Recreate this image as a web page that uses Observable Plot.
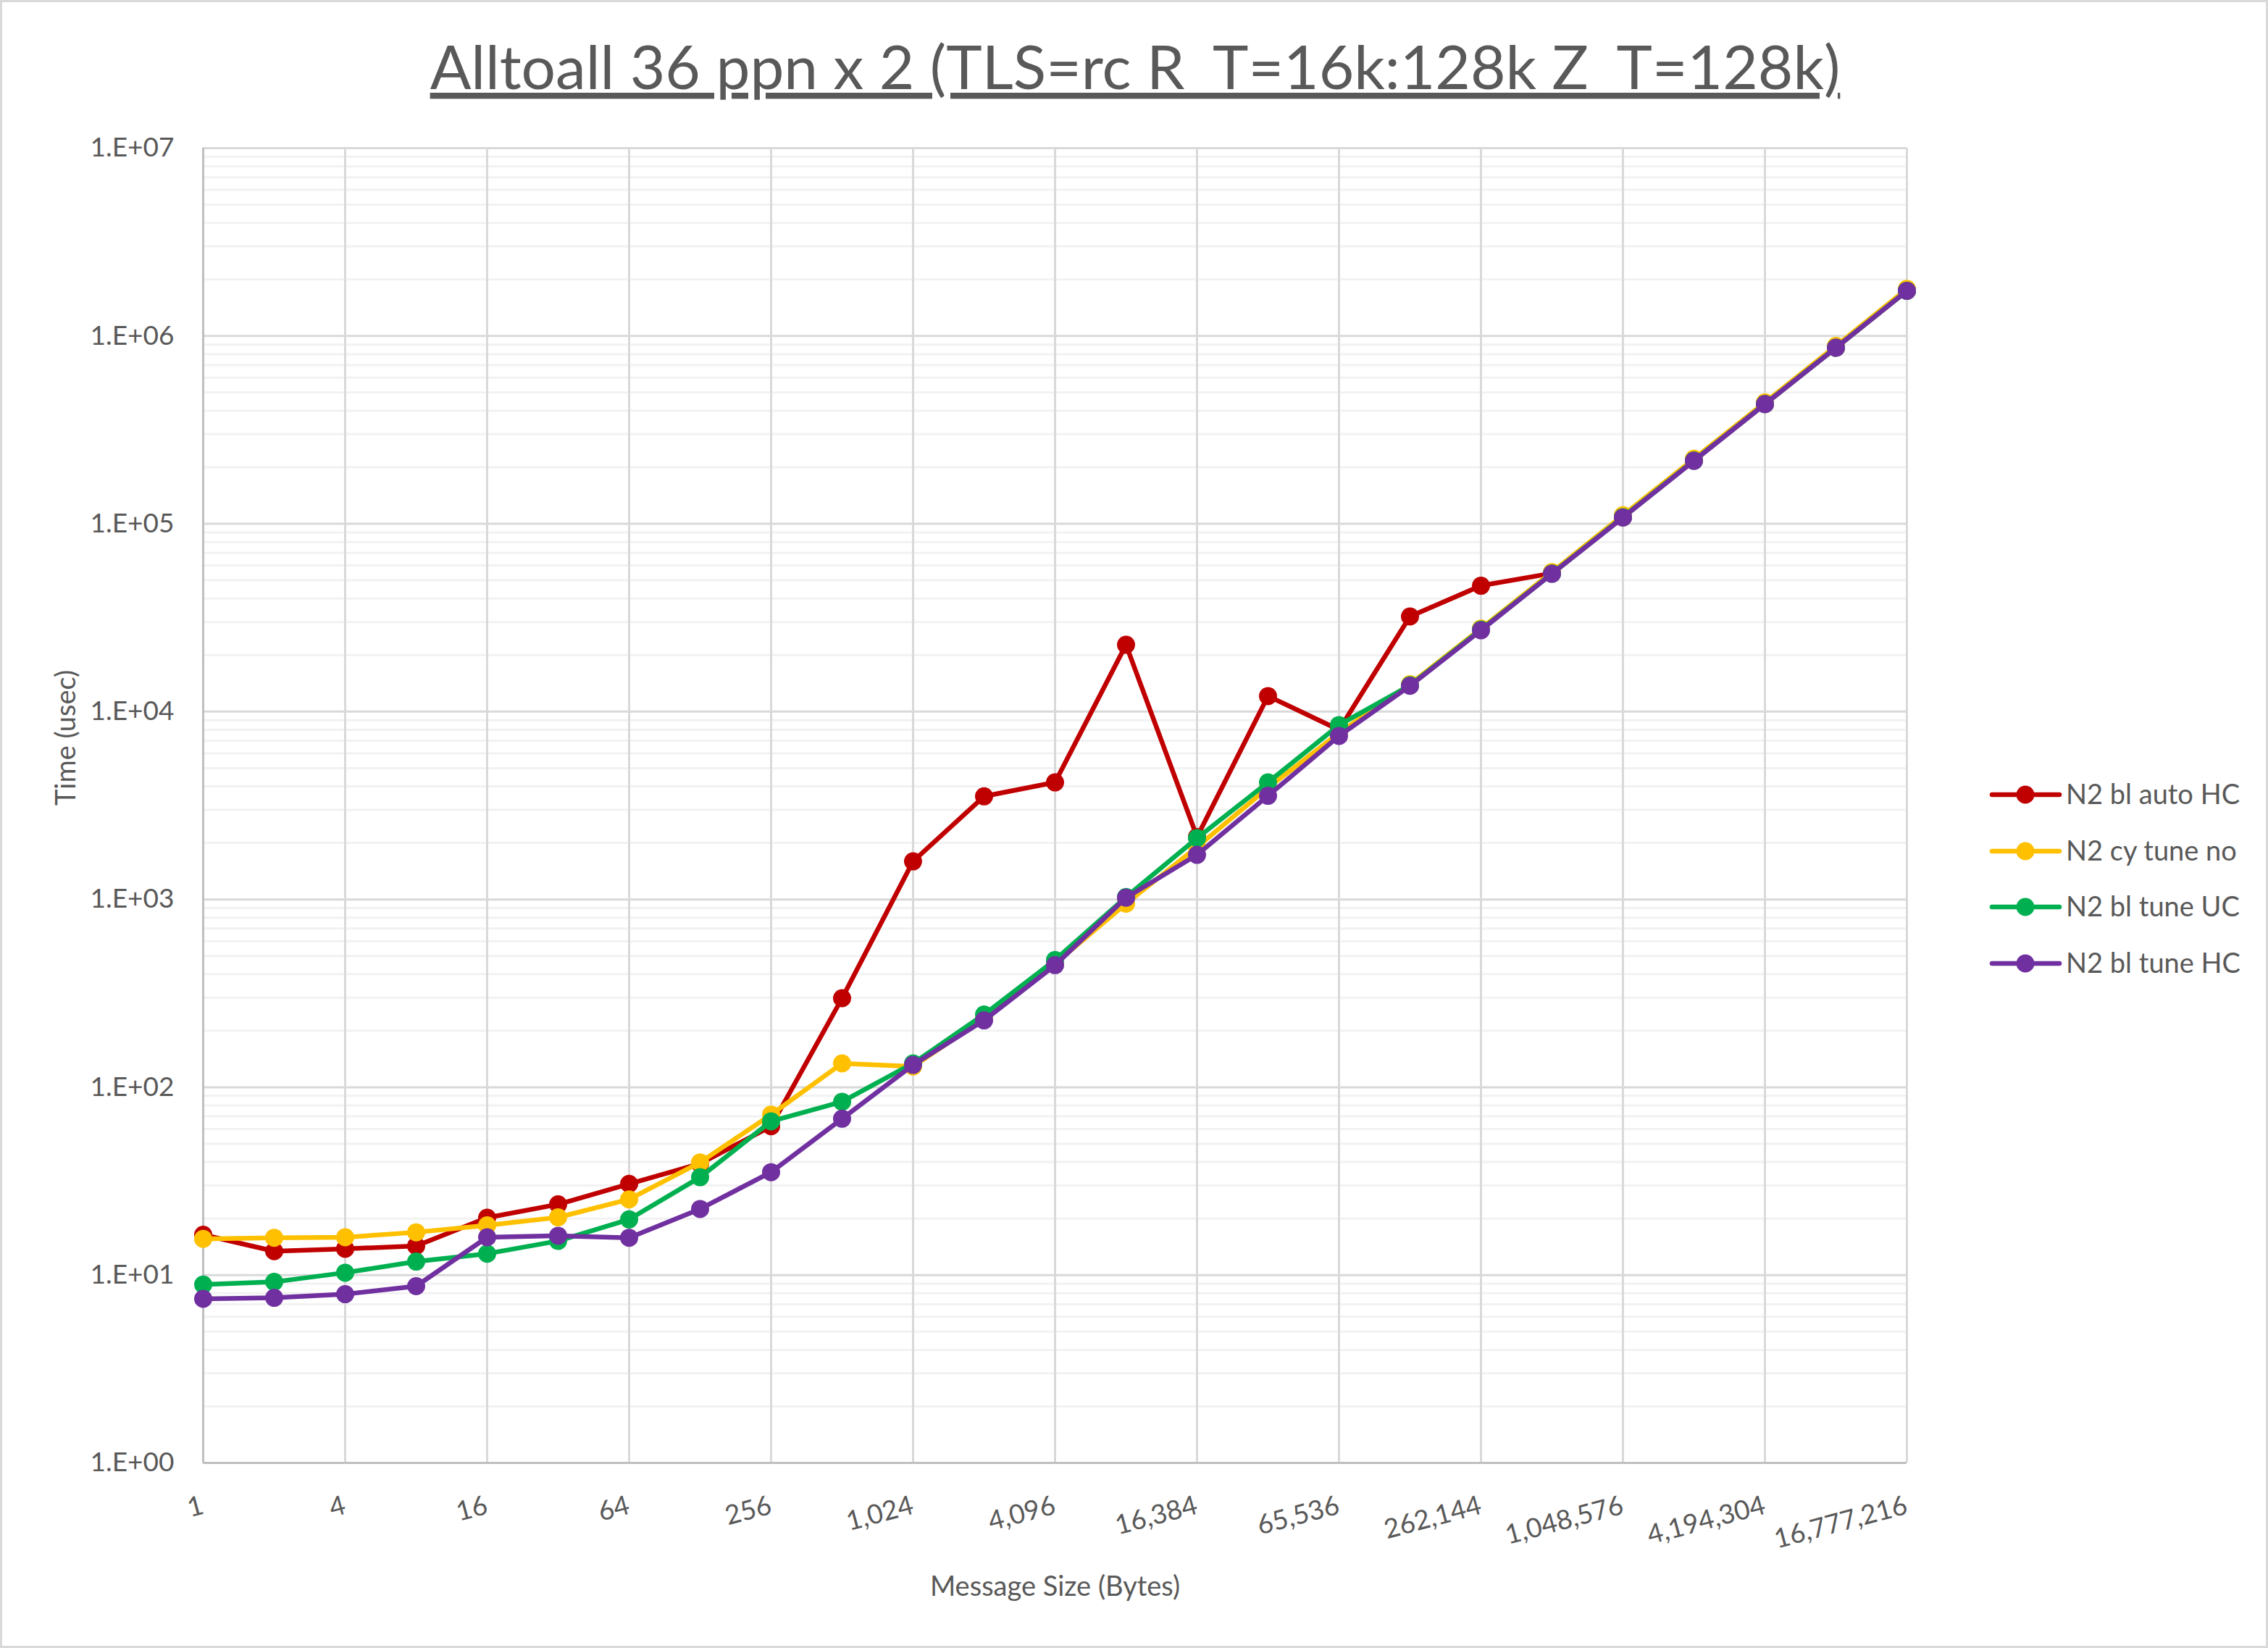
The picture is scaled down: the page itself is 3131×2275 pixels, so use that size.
<!DOCTYPE html>
<html>
<head>
<meta charset="utf-8">
<script src="https://cdn.jsdelivr.net/npm/d3@7"></script>
<script src="https://cdn.jsdelivr.net/npm/@observablehq/plot@0.6"></script>
<style>
  html, body { margin: 0; padding: 0; background: #fff; }
  #chart { position: relative; width: 3131px; height: 2275px; }
  #chart svg { position: absolute; left: 0; top: 0; }
</style>
</head>
<body>
<div id="chart"></div>
<script>
// ---------- data ----------
const titleText = "Alltoall 36 ppn x 2 (TLS=rc R_T=16k:128k Z_T=128k)";
const xLabel = "Message Size (Bytes)";
const yLabel = "Time (usec)";

const sizes = [1, 2, 4, 8, 16, 32, 64, 128, 256, 512, 1024, 2048, 4096, 8192, 16384,
  32768, 65536, 131072, 262144, 524288, 1048576, 2097152, 4194304, 8388608, 16777216];

const seriesNames = ["N2 bl auto HC", "N2 cy tune no", "N2 bl tune UC", "N2 bl tune HC"];
const seriesColors = ["#C00000", "#FFC000", "#00B050", "#7030A0"];

const blAutoHC = [16.4, 13.4, 13.8, 14.3, 20.2, 23.8, 30.6, 39.2, 62, 298, 1595, 3540, 4200,
  22700, 2150, 12100, 8000, 32100, 46800, 54500, 108500, 217000, 434000, 866000, 1740000];
const cyTuneNo = [15.6, 15.8, 15.9, 16.9, 18.4, 20.3, 25.3, 39.8, 71.5, 134, 129, 232, 455,
  950, 1900, 3930, 7700, 14000, 27700, 55300, 111000, 222000, 443000, 885000, 1780000];
const blTuneUC = [8.9, 9.2, 10.3, 11.8, 13.0, 15.2, 19.8, 33.2, 65.9, 83.7, 134, 244, 476,
  1030, 2120, 4200, 8480, 13800, 27300, 54300, 108500, 217000, 434000, 866000, 1740000];
const blTuneHC = [7.48, 7.57, 7.91, 8.73, 15.9, 16.2, 15.8, 22.5, 35.3, 68.0, 131.5, 227, 447,
  1022, 1728, 3563, 7420, 13720, 27100, 54200, 108000, 216500, 433700, 865000, 1740000];

const seriesValues = [blAutoHC, cyTuneNo, blTuneUC, blTuneHC];

const xTicks = [1, 4, 16, 64, 256, 1024, 4096, 16384, 65536, 262144, 1048576, 4194304, 16777216];
const yTicks = [1, 10, 100, 1000, 10000, 100000, 1000000, 10000000];
const yTickLabels = ["1.E+00", "1.E+01", "1.E+02", "1.E+03", "1.E+04", "1.E+05", "1.E+06", "1.E+07"];
const minorMultipliers = [2, 3, 4, 5, 6, 7, 8, 9];

// ---------- derived tables ----------
const minorY = [];
for (const d of yTicks.slice(0, -1)) for (const m of minorMultipliers) minorY.push(d * m);

const rows = seriesNames.map((name, s) =>
  sizes.map((size, i) => ({series: name, size, value: seriesValues[s][i]})));

const FONT = "Lato, 'Open Sans', sans-serif";
const TEXT = "#595959";
const fmtX = d3.format(",");

const marks = [
  Plot.ruleY(minorY, {y: d => d, stroke: "#F2F2F2", strokeWidth: 3}),
  Plot.ruleY(yTicks, {y: d => d, stroke: "#D9D9D9", strokeWidth: 3}),
  Plot.ruleX(xTicks, {x: d => d, stroke: "#D9D9D9", strokeWidth: 3}),
  Plot.ruleX([1], {x: d => d, stroke: "#BFBFBF", strokeWidth: 3}),
  Plot.ruleY([1], {y: d => d, stroke: "#BFBFBF", strokeWidth: 3}),
  Plot.axisY({ticks: yTicks, tickFormat: d => yTickLabels[yTicks.indexOf(d)], tickSize: 0,
    tickPadding: 40, fontSize: 37, fill: TEXT, label: null}),
  Plot.text(xTicks, {x: d => d, text: d => fmtX(d), frameAnchor: "bottom", dy: 44, dx: -4,
    rotate: -15, textAnchor: "end", lineAnchor: "top", fontSize: 37, fill: TEXT}),
  Plot.text([xLabel], {text: d => d, frameAnchor: "bottom", dy: 171, lineAnchor: "middle",
    fontSize: 38, fill: TEXT}),
  Plot.text([yLabel], {text: d => d, frameAnchor: "left", dx: -189, rotate: -90,
    lineAnchor: "middle", fontSize: 38, fill: TEXT})
];
rows.forEach((data, s) => {
  marks.push(Plot.line(data, {x: "size", y: "value", stroke: seriesColors[s], strokeWidth: 6.5,
    strokeLinejoin: "round", strokeLinecap: "round"}));
  marks.push(Plot.dot(data, {x: "size", y: "value", r: 12.5, fill: seriesColors[s], stroke: "none"}));
});

const chart = Plot.plot({
  width: 3131, height: 2275,
  marginLeft: 280, marginRight: 499, marginTop: 204, marginBottom: 256,
  x: {type: "log", base: 2, domain: [1, 16777216], axis: null},
  y: {type: "log", domain: [1, 1e7], axis: null},
  style: {fontFamily: FONT, background: "#fff", color: TEXT, overflow: "visible"},
  marks
});
document.getElementById("chart").appendChild(chart);

// ---------- title, legend, border ----------
const svg = d3.select(chart);
const title = svg.append("text")
  .attr("x", 1567).attr("y", 123).attr("text-anchor", "middle")
  .attr("fill", TEXT).style("font-family", FONT).style("font-size", "80px")
  .style("text-decoration", "underline")
  .text(titleText);
const w = title.node().getComputedTextLength();
title.style("font-size", (80 * 1946 / w).toFixed(1) + "px");

const legend = svg.append("g");
const legendY = [1097, 1175, 1252, 1330];
seriesNames.forEach((name, s) => {
  const g = legend.append("g").attr("transform", `translate(0,${legendY[s]})`);
  g.append("line").attr("x1", 2750).attr("x2", 2843).attr("y1", 0).attr("y2", 0)
    .attr("stroke", seriesColors[s]).attr("stroke-width", 6.5).attr("stroke-linecap", "round");
  g.append("circle").attr("cx", 2796).attr("cy", 0).attr("r", 12.5).attr("fill", seriesColors[s]);
  g.append("text").attr("x", 2852).attr("y", 13).attr("fill", TEXT)
    .attr("text-anchor", "start")
    .style("font-family", FONT).style("font-size", "38px").text(name);
});

svg.append("rect").attr("x", 1.5).attr("y", 1.5).attr("width", 3128).attr("height", 2272)
  .attr("fill", "none").attr("stroke", "#D9D9D9").attr("stroke-width", 3);
</script>
</body>
</html>
